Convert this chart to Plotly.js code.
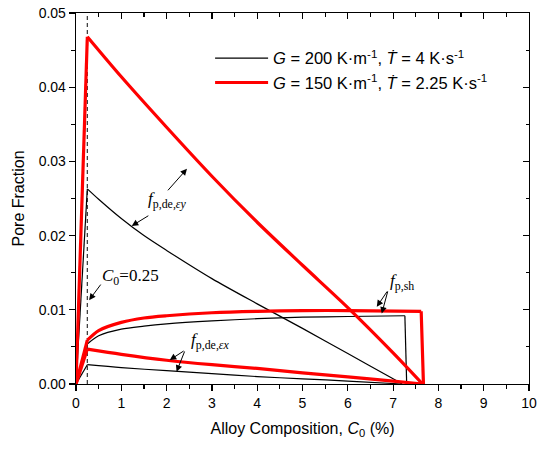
<!DOCTYPE html>
<html>
<head>
<meta charset="utf-8">
<script src="https://cdn.plot.ly/plotly-3.0.1.min.js"></script>
<style>html,body{margin:0;padding:0;background:#fff;}#chart{width:538px;height:451px;}</style>
</head>
<body>
<div id="chart"></div>
<script>
// ---- data ----
const c0Value = [0.25];
const xBlackEy = [0, 0.25, 0.5, 1, 1.5, 2, 3, 4, 5, 6, 7, 7.2];
const yBlackEy = [0, 0.0263, 0.0249, 0.0223, 0.0200, 0.0180, 0.0142, 0.0108, 0.0075, 0.0041, 0.0007, 0];
const xBlackEx = [0, 0.25, 1, 2, 3, 4, 5, 6, 7.2];
const yBlackEx = [0, 0.0026, 0.0022, 0.0018, 0.0014, 0.0010, 0.0007, 0.0004, 0];
const xBlackSh = [0, 0.25, 0.5, 1, 1.5, 2, 3, 4, 5, 6, 7.26, 7.3];
const yBlackSh = [0, 0.0054, 0.0065, 0.0074, 0.0078, 0.0081, 0.0085, 0.0088, 0.0090, 0.0091, 0.0092, 0];
const xRedEy = [0, 0.25, 1, 2, 3, 4, 5, 6, 7, 7.65];
const yRedEy = [0, 0.0468, 0.0414, 0.0346, 0.0280, 0.0218, 0.0160, 0.0103, 0.0042, 0];
const xRedEx = [0, 0.25, 1, 2, 3, 4, 5, 6, 7, 7.65];
const yRedEx = [0, 0.0047, 0.0040, 0.0032, 0.0026, 0.0021, 0.0015, 0.00096, 0.00038, 0];
const xRedSh = [0, 0.25, 0.5, 1, 1.5, 2, 3, 4, 5, 6, 7.62, 7.67];
const yRedSh = [0, 0.0059, 0.0072, 0.0083, 0.0089, 0.0092, 0.0096, 0.0098, 0.0099, 0.0099, 0.0098, 0];
const legendNames = ['<i>G</i> = 200 K·m<sup>-1</sup>, <i>Ṫ</i> = 4 K·s<sup>-1</sup>',
                     '<i>G</i> = 150 K·m<sup>-1</sup>, <i>Ṫ</i> = 2.25 K·s<sup>-1</sup>'];
const xTickVals = [0,1,2,3,4,5,6,7,8,9,10];
const yTickVals = [0, 0.01, 0.02, 0.03, 0.04, 0.05];

const blk = {color: '#000', width: 1.2};
const red = {color: '#ff0000', width: 3.2};
const SER = 'Liberation Serif, Times New Roman, serif';
const SANS = 'Liberation Sans, Arial, sans-serif';

// piece of a curve: indices i0..i1 inclusive, linear or smoothed
function piece(xs, ys, i0, i1, ln, smooth, group, name) {
  const t = {x: xs.slice(i0, i1 + 1), y: ys.slice(i0, i1 + 1), mode: 'lines',
             line: Object.assign({}, ln, smooth ? {shape: 'spline', smoothing: 0.8} : {shape: 'linear'}),
             legendgroup: group, showlegend: !!name, hoverinfo: 'skip'};
  if (name) t.name = name;
  return t;
}

const traces = [
  {x: [c0Value[0], c0Value[0]], y: [0, 0.05], mode: 'lines', line: {color: '#333', width: 1.2, dash: '4px,3px'}, showlegend: false, hoverinfo: 'skip'},
  // black set
  piece(xBlackEy, yBlackEy, 1, xBlackEy.length - 1, blk, true, 'a', legendNames[0]),
  piece(xBlackEy, yBlackEy, 0, 1, blk, false, 'a'),
  piece(xBlackEx, yBlackEx, 0, 1, blk, false, 'a'),
  piece(xBlackEx, yBlackEx, 1, xBlackEx.length - 1, blk, true, 'a'),
  piece(xBlackSh, yBlackSh, 0, 1, blk, false, 'a'),
  piece(xBlackSh, yBlackSh, 1, xBlackSh.length - 2, blk, true, 'a'),
  piece(xBlackSh, yBlackSh, xBlackSh.length - 2, xBlackSh.length - 1, blk, false, 'a'),
  // red set
  piece(xRedEy, yRedEy, 1, xRedEy.length - 1, red, true, 'b', legendNames[1]),
  piece(xRedEy, yRedEy, 0, 1, red, false, 'b'),
  piece(xRedEx, yRedEx, 0, 1, red, false, 'b'),
  piece(xRedEx, yRedEx, 1, xRedEx.length - 1, red, true, 'b'),
  piece(xRedSh, yRedSh, 0, 1, red, false, 'b'),
  piece(xRedSh, yRedSh, 1, xRedSh.length - 2, red, true, 'b'),
  piece(xRedSh, yRedSh, xRedSh.length - 2, xRedSh.length - 1, red, false, 'b'),
  {x: [0], y: [0], xaxis: 'x2', yaxis: 'y2', mode: 'markers', marker: {opacity: 0}, showlegend: false, hoverinfo: 'skip'}
];

function arrow(hx, hy, tx, ty) {
  return {x: hx, y: hy, ax: tx, ay: ty, xref: 'x', yref: 'y', axref: 'x', ayref: 'y',
          text: '', showarrow: true, arrowhead: 2, arrowsize: 1.3, arrowwidth: 1, arrowcolor: '#000'};
}
function label(x, y, txt) {
  return {x: x, y: y, xref: 'x', yref: 'y', text: txt, showarrow: false,
          font: {family: SER, size: 17, color: '#000'}};
}

const annotations = [
  label(1.21, 0.0144, '<i>C</i><sub>0</sub>=0.25'),
  arrow(0.29, 0.0113, 0.57, 0.0136),
  label(2.03, 0.0248, '<i>f</i><sub>p,de,<i>εy</i></sub>'),
  arrow(2.45, 0.0290, 2.0, 0.0259),
  arrow(1.23, 0.0213, 1.63, 0.0228),
  label(2.98, 0.0058, '<i>f</i><sub>p,de,<i>εx</i></sub>'),
  arrow(2.07, 0.00323, 2.41, 0.00458),
  arrow(2.22, 0.00166, 2.41, 0.00458),
  label(7.2, 0.01375, '<i>f</i><sub>p,sh</sub>'),
  arrow(6.64, 0.0104, 6.89, 0.01267),
  arrow(6.75, 0.0095, 6.89, 0.01267)
];

const axisCommon = {showline: true, linecolor: '#000', linewidth: 1.3, zeroline: false, showgrid: false,
                    tickcolor: '#000', tickwidth: 1.2, ticklen: 6};

const layout = {
  width: 538, height: 451,
  margin: {l: 76, r: 9, t: 13, b: 67},
  paper_bgcolor: '#fff', plot_bgcolor: '#fff',
  showlegend: true,
  legend: {x: 0.296, y: 0.925, xanchor: 'left', yanchor: 'top', bgcolor: 'rgba(0,0,0,0)',
           font: {family: SANS, size: 16.5, color: '#000'}, itemwidth: 53, tracegroupgap: 0},
  xaxis: Object.assign({}, axisCommon, {
    range: [0, 10], tickvals: xTickVals, ticks: 'outside',
    minor: {dtick: 0.5, ticks: 'outside', ticklen: 3.5, tickcolor: '#000', tickwidth: 1.2},
    tickfont: {family: SANS, size: 14, color: '#000'},
    title: {text: 'Alloy Composition, <i>C</i><sub>0</sub> (%)', font: {family: SANS, size: 16, color: '#000'}, standoff: 12}
  }),
  yaxis: Object.assign({}, axisCommon, {
    range: [0, 0.05], tickvals: yTickVals, tickformat: '.2f', ticks: 'outside',
    minor: {dtick: 0.005, ticks: 'outside', ticklen: 3.5, tickcolor: '#000', tickwidth: 1.2},
    tickfont: {family: SANS, size: 14, color: '#000'},
    title: {text: 'Pore Fraction', font: {family: SANS, size: 16, color: '#000'}, standoff: 10}
  }),
  xaxis2: Object.assign({}, axisCommon, {
    overlaying: 'x', side: 'top', anchor: 'y2', range: [0, 10], tickvals: xTickVals, ticks: 'inside',
    minor: {dtick: 0.5, ticks: 'inside', ticklen: 3.5, tickcolor: '#000', tickwidth: 1.2},
    showticklabels: false
  }),
  yaxis2: Object.assign({}, axisCommon, {
    overlaying: 'y', side: 'right', anchor: 'x2', range: [0, 0.05], tickvals: yTickVals, ticks: 'inside',
    minor: {dtick: 0.005, ticks: 'inside', ticklen: 3.5, tickcolor: '#000', tickwidth: 1.2},
    showticklabels: false
  }),
  annotations: annotations
};

Plotly.newPlot('chart', traces, layout, {displayModeBar: false, staticPlot: true});
</script>
</body>
</html>
